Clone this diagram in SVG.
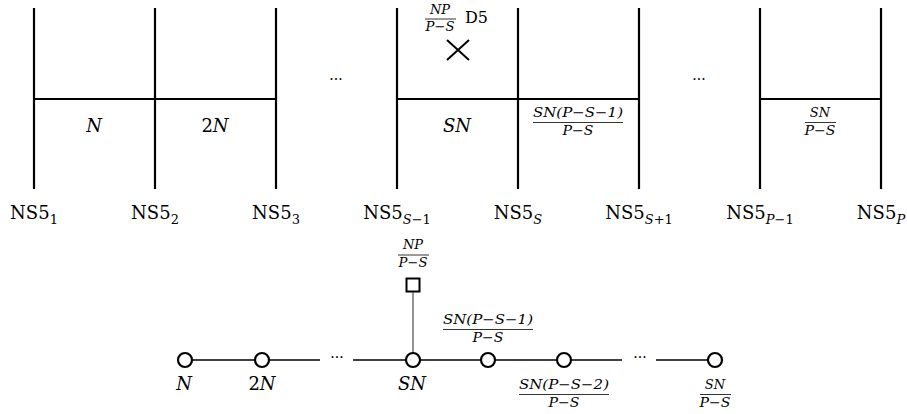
<svg xmlns="http://www.w3.org/2000/svg" width="907" height="414" viewBox="0 0 907 414" font-family="'DejaVu Serif', serif">
<style>
text{font-family:'DejaVu Serif',serif;fill:#000}
.lab{font-size:18px;text-anchor:middle}
.it{font-style:italic}
.fr{font-size:13px;font-style:italic;text-anchor:middle}
.sub{font-size:13px}
.brane{stroke:#000;stroke-width:2.2;fill:none}
.bar{stroke:#000;stroke-width:0.8}
.edge{stroke:#000;stroke-width:1.3;fill:none}
.node{stroke:#000;stroke-width:2.2;fill:#fff}
.dots{font-size:14px;text-anchor:middle}
</style>
<rect width="907" height="414" fill="#fff"/>

<g id="ns5-1"><line class="brane" x1="34" y1="8" x2="34" y2="189"/><text class="lab" x="34" y="219">NS5<tspan class="sub" dy="5">1</tspan></text></g>
<g id="ns5-2"><line class="brane" x1="155" y1="8" x2="155" y2="189"/><text class="lab" x="155" y="219">NS5<tspan class="sub" dy="5">2</tspan></text></g>
<g id="ns5-3"><line class="brane" x1="276" y1="8" x2="276" y2="189"/><text class="lab" x="276" y="219">NS5<tspan class="sub" dy="5">3</tspan></text></g>
<g id="ns5-s-1"><line class="brane" x1="397" y1="8" x2="397" y2="189"/><text class="lab" x="397" y="219">NS5<tspan class="sub it" dy="5">S</tspan><tspan class="sub">−1</tspan></text></g>
<g id="ns5-s"><line class="brane" x1="518" y1="8" x2="518" y2="189"/><text class="lab" x="518" y="219">NS5<tspan class="sub it" dy="5">S</tspan></text></g>
<g id="ns5-s+1"><line class="brane" x1="639" y1="8" x2="639" y2="189"/><text class="lab" x="639" y="219">NS5<tspan class="sub it" dy="5">S</tspan><tspan class="sub">+1</tspan></text></g>
<g id="ns5-p-1"><line class="brane" x1="760" y1="8" x2="760" y2="189"/><text class="lab" x="760" y="219">NS5<tspan class="sub it" dy="5">P</tspan><tspan class="sub">−1</tspan></text></g>
<g id="ns5-p"><line class="brane" x1="881" y1="8" x2="881" y2="189"/><text class="lab" x="881" y="219">NS5<tspan class="sub it" dy="5">P</tspan></text></g>

<g id="d3-branes">
<line class="brane" x1="34" y1="99" x2="276" y2="99"/>
<line class="brane" x1="397" y1="99" x2="639" y2="99"/>
<line class="brane" x1="760" y1="99" x2="881" y2="99"/>
</g>
<g id="d3-labels">
<text class="lab it" x="94" y="132">N</text>
<text class="lab" x="215" y="132">2<tspan class="it">N</tspan></text>
<text class="lab it" x="457" y="132">SN</text>
<text class="fr" x="578" y="117" textLength="90" lengthAdjust="spacingAndGlyphs">SN(P−S−1)</text>
<line class="bar" x1="533" y1="122.5" x2="623" y2="122.5"/>
<text class="fr" x="578" y="135" textLength="31" lengthAdjust="spacingAndGlyphs">P−S</text>
<text class="fr" x="820" y="117">SN</text>
<line class="bar" x1="805" y1="122.5" x2="836" y2="122.5"/>
<text class="fr" x="820" y="135" textLength="31" lengthAdjust="spacingAndGlyphs">P−S</text>
<text class="dots" x="336" y="84">···</text>
<text class="dots" x="699" y="84">···</text>
</g>

<g id="d5">
<text class="fr" x="440" y="14">NP</text>
<line class="bar" x1="425" y1="19" x2="456" y2="19"/>
<text class="fr" x="440" y="31" textLength="29" lengthAdjust="spacingAndGlyphs">P−S</text>
<text x="465" y="23" style="font-size:16px">D5</text>
<path class="brane" d="M447,40 L469,60 M469,40 L447,60" style="stroke-width:2"/>
</g>

<g id="connectors">
<line class="edge" x1="192" y1="360" x2="255" y2="360"/>
<line class="edge" x1="269" y1="360" x2="320" y2="360"/>
<line class="edge" x1="353" y1="360" x2="406" y2="360"/>
<line class="edge" x1="420" y1="360" x2="481" y2="360"/>
<line class="edge" x1="495" y1="360" x2="557" y2="360"/>
<line class="edge" x1="571" y1="360" x2="622" y2="360"/>
<line class="edge" x1="656" y1="360" x2="708" y2="360"/>
<line x1="413" y1="292" x2="413" y2="353" stroke="#666" stroke-width="1.4"/>
<text class="dots" x="337" y="362">···</text>
<text class="dots" x="640" y="362">···</text>
</g>
<g id="q-n"><circle class="node" cx="185" cy="360" r="7"/><text class="lab it" x="184" y="390">N</text></g>
<g id="q-2n"><circle class="node" cx="262" cy="360" r="7"/><text class="lab" x="262" y="390">2<tspan class="it">N</tspan></text></g>
<g id="q-sn"><circle class="node" cx="413" cy="360" r="7"/><text class="lab it" x="412" y="390">SN</text></g>
<g id="q-sn1"><circle class="node" cx="488" cy="360" r="7"/>
<text class="fr" x="488" y="324" textLength="90" lengthAdjust="spacingAndGlyphs">SN(P−S−1)</text>
<line class="bar" x1="443" y1="329.5" x2="533" y2="329.5"/>
<text class="fr" x="488" y="342" textLength="31" lengthAdjust="spacingAndGlyphs">P−S</text></g>
<g id="q-sn2"><circle class="node" cx="564" cy="360" r="7"/>
<text class="fr" x="564" y="389" textLength="90" lengthAdjust="spacingAndGlyphs">SN(P−S−2)</text>
<line class="bar" x1="519" y1="394.5" x2="609" y2="394.5"/>
<text class="fr" x="564" y="407" textLength="31" lengthAdjust="spacingAndGlyphs">P−S</text></g>
<g id="q-snp"><circle class="node" cx="715" cy="360" r="7"/>
<text class="fr" x="715" y="389">SN</text>
<line class="bar" x1="700" y1="394.5" x2="731" y2="394.5"/>
<text class="fr" x="715" y="407" textLength="31" lengthAdjust="spacingAndGlyphs">P−S</text></g>
<g id="q-flavor"><rect class="node" x="406.5" y="278.5" width="13" height="13" style="stroke-width:2"/>
<text class="fr" x="413" y="249">NP</text>
<line class="bar" x1="398" y1="255" x2="429" y2="255"/>
<text class="fr" x="413" y="267" textLength="29" lengthAdjust="spacingAndGlyphs">P−S</text></g>
</svg>
